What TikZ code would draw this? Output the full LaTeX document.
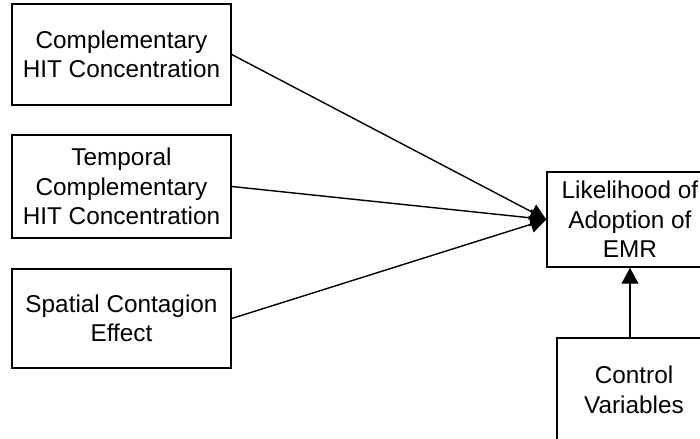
\documentclass[tikz,border=0pt]{standalone}
\usepackage{fontspec}
\setmainfont{Liberation Sans}
\usetikzlibrary{arrows.meta}
\tikzstyle{every node}=[font=\fontsize{17.3}{21}\selectfont]
\tikzstyle{box}=[draw,align=center,inner sep=0pt]
\tikzstyle{leftbox}=[box,minimum width=5.475cm]

\begin{document}
\begin{tikzpicture}[x=0.025cm,y=-0.025cm,line width=1pt,>={Triangle[length=0.4cm,width=0.42cm]}]
  \clip (0,0) rectangle (700,439);
  % factors
  \node[leftbox,minimum height=2.525cm] (comp) at (121.5,54.5) {Complementary\\HIT Concentration};
  \node[leftbox,minimum height=2.575cm] (temp) at (121.5,186.5) {Temporal\\Complementary\\HIT Concentration};
  \node[leftbox,minimum height=2.475cm] (spat) at (121.5,318.5) {Spatial Contagion\\Effect};
  % outcome
  \node[box,minimum width=4.15cm,minimum height=2.375cm] (lik) at (630,219.5) {Likelihood of\\Adoption of\\EMR};
  \node[box,minimum width=3.85cm,minimum height=2.6cm] (ctrl) at (634,390) {Control\\Variables};
  %
  \draw[->] (comp.east)--(lik.west);
  \draw[->] (temp.east)--(lik.west);
  \draw[->] (spat.east)--(lik.west);
  \draw[->] (lik.south |- ctrl.north)--(lik.south);
\end{tikzpicture}
\end{document}
